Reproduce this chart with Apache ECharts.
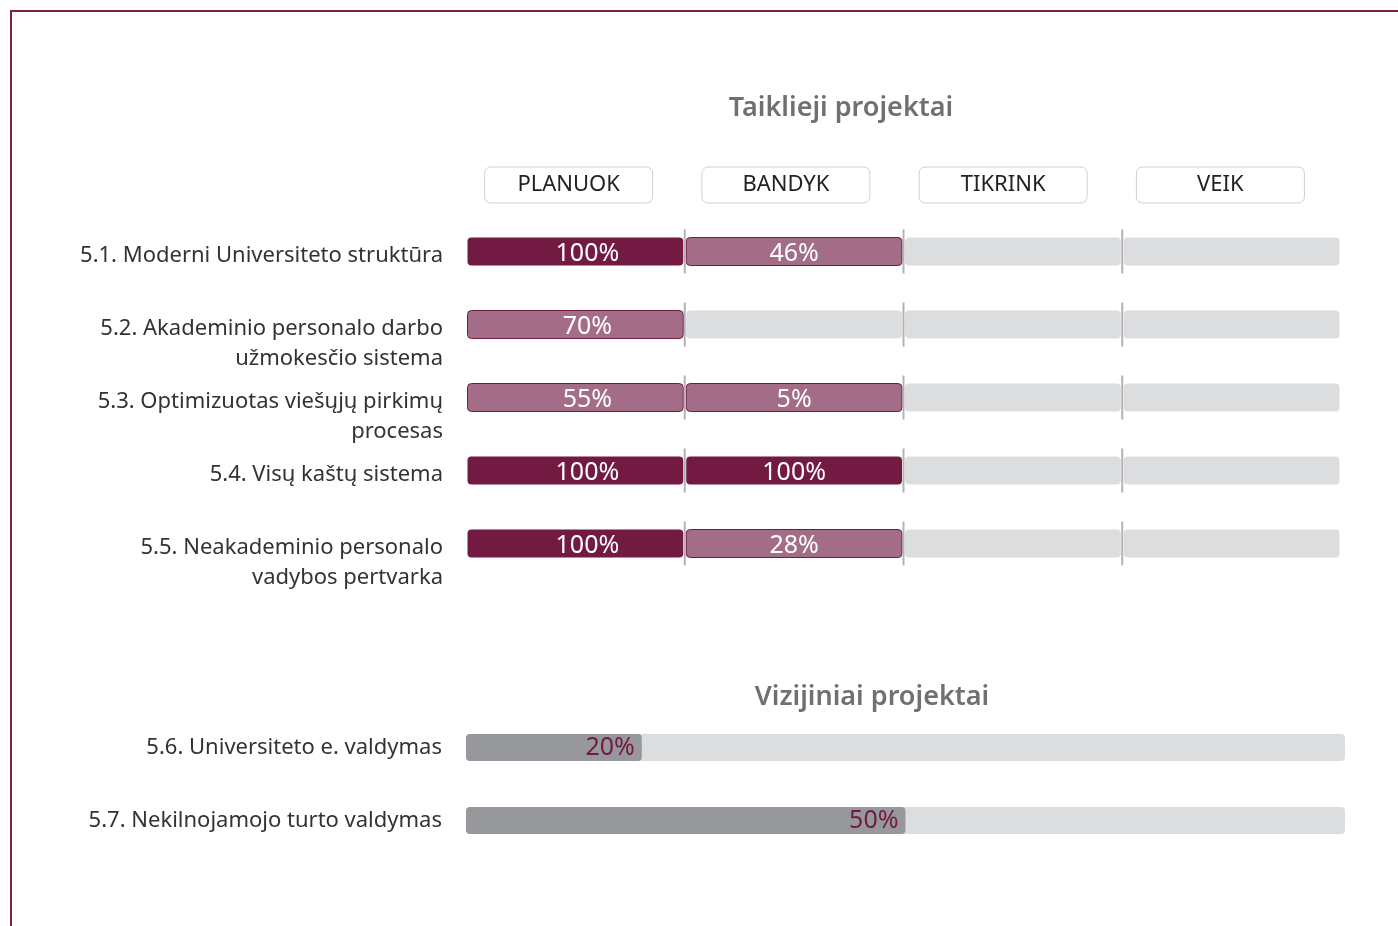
<!DOCTYPE html>
<html>
<head>
<meta charset="utf-8">
<script src="https://cdn.jsdelivr.net/npm/echarts@6/dist/echarts.min.js"></script>
<style>
  html, body { margin: 0; padding: 0; background: #fff; }
  #chart { width: 1398px; height: 926px; }
</style>
</head>
<body>
<div id="chart"></div>
<script>
// duomenys
var stages = ['PLANUOK', 'BANDYK', 'TIKRINK', 'VEIK'];
var targetRows = [
    '5.1. Moderni Universiteto struktūra',
    '5.2. Akademinio personalo darbo\nužmokesčio sistema',
    '5.3. Optimizuotas viešųjų pirkimų\nprocesas',
    '5.4. Visų kaštų sistema',
    '5.5. Neakademinio personalo\nvadybos pertvarka'
];
var planuok = [100, 70, 55, 100, 100];
var bandyk = [46, 0, 5, 100, 28];
var tikrink = [0, 0, 0, 0, 0];
var veik = [0, 0, 0, 0, 0];

var visionRows = ['5.6. Universiteto e. valdymas', '5.7. Nekilnojamojo turto valdymas'];
var visionValues = [20, 50];

var DARK = '#731a42';
var MID = '#a36d87';
var TRACK = '#dcdddf';
var FONT = '"Noto Sans", sans-serif';

var stageValues = [planuok, bandyk, tikrink, veik];
var segData = [];
targetRows.forEach(function (row, r) {
    stageValues.forEach(function (vals, s) {
        segData.push([s, r, vals[r]]);
    });
});
var labelData = targetRows.map(function (row, r) { return [0, r]; });

var el = document.getElementById('chart');
var myChart = echarts.init(el);

myChart.setOption({
    animation: false,
    textStyle: { fontFamily: FONT },
    title: [
        { text: 'Taiklieji projektai', left: 836, top: 90, textAlign: 'center',
          textStyle: { fontSize: 27, fontWeight: 600, color: '#6f7073', fontFamily: FONT } },
        { text: 'Vizijiniai projektai', left: 867, top: 679, textAlign: 'center',
          textStyle: { fontSize: 27, fontWeight: 600, color: '#6f7073', fontFamily: FONT } }
    ],
    graphic: [{
        type: 'polyline',
        shape: { points: [[11, 926], [11, 11], [1398, 11]] },
        style: { stroke: '#7b1f4d', lineWidth: 2, fill: null }
    }],
    grid: [
        { left: 466, top: 215, width: 875, height: 365 },
        { left: 466, top: 711, width: 879, height: 146 },
        // antraštės (etapai)
        { left: 460, top: 215, width: 869, height: 1 }
    ],
    xAxis: [
        { gridIndex: 0, type: 'category', data: stages, show: false },
        { gridIndex: 1, type: 'value', min: 0, max: 100, show: false },
        {
            gridIndex: 2, type: 'category', data: stages, position: 'top',
            axisLine: { show: false }, axisTick: { show: false }, splitLine: { show: false },
            axisLabel: {
                margin: 12, fontSize: 22, color: '#222',
                borderColor: '#cfcfcf', borderWidth: 1, borderRadius: 6,
                width: 168, height: 36, lineHeight: 36, align: 'center'
            }
        }
    ],
    yAxis: [
        { gridIndex: 0, type: 'category', data: targetRows, inverse: true, show: false },
        {
            gridIndex: 1, type: 'category', data: visionRows, inverse: true,
            axisLine: { show: false }, axisTick: { show: false },
            axisLabel: { margin: 24, fontSize: 22, color: '#333', padding: [6, 0, 0, 0] }
        },
        { gridIndex: 2, type: 'value', show: false }
    ],
    series: [
        {
            type: 'custom',
            xAxisIndex: 0, yAxisIndex: 0,
            data: segData,
            encode: { x: 0, y: 1 },
            renderItem: function (params, api) {
                var c = api.coord([api.value(0), api.value(1)]);
                var bw = api.size([1, 0])[0];
                var h = 28;
                var v = api.value(2);
                var s = api.value(0);
                var children = [{
                    type: 'rect',
                    shape: { x: c[0] - bw / 2 + 1.5, y: c[1] - h / 2, width: bw - 3, height: h, r: 4 },
                    style: {
                        fill: v >= 100 ? DARK : (v > 0 ? MID : TRACK),
                        stroke: v > 0 && v < 100 ? DARK : null,
                        lineWidth: 1
                    }
                }];
                if (v > 0) {
                    children.push({
                        type: 'text',
                        style: {
                            text: v + '%', x: c[0] + (s === 0 ? 12 : 0), y: c[1] + 2,
                            align: 'center', verticalAlign: 'middle',
                            fill: '#fff', font: '25px ' + FONT
                        }
                    });
                }
                if (s > 0) {
                    children.push({
                        type: 'line',
                        shape: { x1: c[0] - bw / 2, y1: c[1] - 22, x2: c[0] - bw / 2, y2: c[1] + 22 },
                        style: { stroke: '#b3b3b5', lineWidth: 2 }
                    });
                }
                return { type: 'group', children: children };
            }
        },
        {
            type: 'custom',
            xAxisIndex: 0, yAxisIndex: 0,
            data: labelData,
            encode: { x: 0, y: 1 },
            renderItem: function (params, api) {
                var c = api.coord([0, api.value(1)]);
                return {
                    type: 'text',
                    style: {
                        text: targetRows[params.dataIndex],
                        x: params.coordSys.x - 23, y: c[1] - 11,
                        align: 'right', verticalAlign: 'top',
                        lineHeight: 30, fill: '#333', font: '22px ' + FONT
                    }
                };
            }
        },
        {
            type: 'bar',
            xAxisIndex: 1, yAxisIndex: 1,
            data: visionValues,
            barWidth: 27,
            itemStyle: { color: '#97989c', borderRadius: 4 },
            showBackground: true,
            backgroundStyle: { color: TRACK, borderRadius: 4 },
            label: {
                show: true, position: 'insideRight', distance: 7,
                formatter: '{c}%', color: DARK, fontSize: 25
            }
        }
    ]
});
</script>
</body>
</html>
